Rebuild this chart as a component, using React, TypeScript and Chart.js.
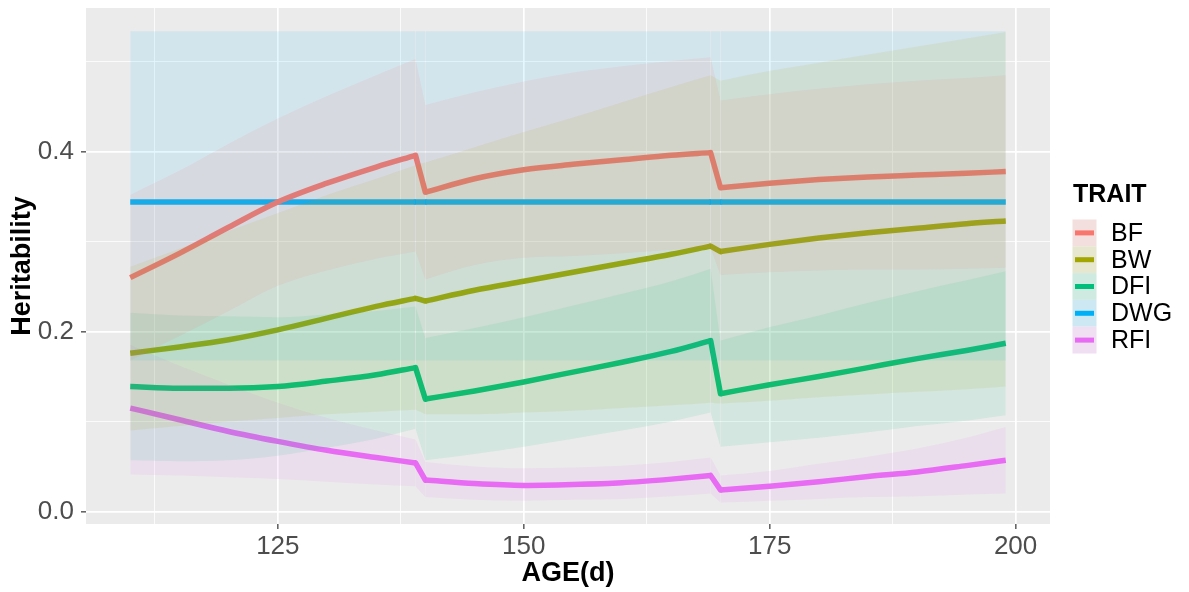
import { useEffect, useRef } from 'react';
import { Chart, registerables } from 'chart.js';

Chart.register(...registerables);

// ---------- data ----------
const AGES = [110, 115, 120, 125, 130, 135, 139, 140, 145, 150, 155, 160, 165, 169, 170, 175, 180, 185, 190, 195, 199];
// index ranges of the smooth stretches and of the two steps between them
const PIECES = [[0, 6], [6, 7], [7, 13], [13, 14], [14, 20]];

const TRAITS = ['BF', 'BW', 'DFI', 'DWG', 'RFI'];
const TRAIT_COLORS = ['#F8766D', '#A3A500', '#00BF7D', '#00B0F6', '#E76BF3'];

const BF_MEAN = [0.260, 0.287, 0.316, 0.344, 0.365, 0.383, 0.396, 0.355, 0.370, 0.380, 0.386, 0.391, 0.396, 0.399, 0.360, 0.365, 0.369, 0.372, 0.374, 0.376, 0.378];
const BF_LOW = [0.168, 0.195, 0.223, 0.251, 0.268, 0.281, 0.289, 0.258, 0.274, 0.282, 0.284, 0.287, 0.291, 0.293, 0.263, 0.266, 0.268, 0.269, 0.269, 0.270, 0.271];
const BF_HIGH = [0.352, 0.379, 0.409, 0.437, 0.462, 0.485, 0.503, 0.452, 0.466, 0.478, 0.488, 0.495, 0.501, 0.505, 0.457, 0.464, 0.470, 0.475, 0.479, 0.482, 0.485];

const BW_MEAN = [0.176, 0.183, 0.191, 0.202, 0.215, 0.228, 0.237, 0.234, 0.246, 0.256, 0.266, 0.276, 0.286, 0.295, 0.289, 0.297, 0.304, 0.310, 0.315, 0.320, 0.323];
const BW_LOW = [0.090, 0.095, 0.100, 0.104, 0.108, 0.111, 0.113, 0.108, 0.108, 0.110, 0.112, 0.115, 0.118, 0.121, 0.120, 0.123, 0.127, 0.130, 0.133, 0.136, 0.139];
const BW_HIGH = [0.272, 0.292, 0.312, 0.332, 0.352, 0.370, 0.385, 0.388, 0.405, 0.422, 0.438, 0.455, 0.472, 0.485, 0.479, 0.490, 0.499, 0.508, 0.517, 0.526, 0.533];

const DFI_MEAN = [0.139, 0.137, 0.137, 0.139, 0.145, 0.152, 0.160, 0.125, 0.134, 0.144, 0.155, 0.166, 0.178, 0.190, 0.131, 0.141, 0.150, 0.160, 0.170, 0.179, 0.187];
const DFI_LOW = [0.057, 0.056, 0.057, 0.062, 0.071, 0.081, 0.092, 0.057, 0.064, 0.072, 0.081, 0.090, 0.100, 0.110, 0.072, 0.077, 0.082, 0.088, 0.095, 0.101, 0.107];
const DFI_HIGH = [0.221, 0.218, 0.217, 0.216, 0.219, 0.223, 0.228, 0.193, 0.204, 0.216, 0.229, 0.242, 0.256, 0.270, 0.190, 0.205, 0.218, 0.232, 0.245, 0.257, 0.267];

const DWG_MEAN = [0.344, 0.344, 0.344, 0.344, 0.344, 0.344, 0.344, 0.344, 0.344, 0.344, 0.344, 0.344, 0.344, 0.344, 0.344, 0.344, 0.344, 0.344, 0.344, 0.344, 0.344];
const DWG_LOW = [0.168, 0.168, 0.168, 0.168, 0.168, 0.168, 0.168, 0.168, 0.168, 0.168, 0.168, 0.168, 0.168, 0.168, 0.168, 0.168, 0.168, 0.168, 0.168, 0.168, 0.168];
const DWG_HIGH = [0.534, 0.534, 0.534, 0.534, 0.534, 0.534, 0.534, 0.534, 0.534, 0.534, 0.534, 0.534, 0.534, 0.534, 0.534, 0.534, 0.534, 0.534, 0.534, 0.534, 0.534];

const RFI_MEAN = [0.115, 0.102, 0.089, 0.078, 0.068, 0.060, 0.054, 0.035, 0.031, 0.029, 0.030, 0.032, 0.036, 0.040, 0.024, 0.028, 0.033, 0.039, 0.044, 0.051, 0.057];
const RFI_LOW = [0.041, 0.040, 0.038, 0.036, 0.033, 0.030, 0.028, 0.016, 0.013, 0.012, 0.013, 0.014, 0.017, 0.020, 0.010, 0.012, 0.014, 0.016, 0.017, 0.019, 0.020];
const RFI_HIGH = [0.185, 0.162, 0.141, 0.121, 0.104, 0.090, 0.080, 0.055, 0.050, 0.048, 0.049, 0.051, 0.055, 0.060, 0.040, 0.045, 0.053, 0.061, 0.070, 0.082, 0.094];

const MEANS = [BF_MEAN, BW_MEAN, DFI_MEAN, DWG_MEAN, RFI_MEAN];
const LOWS = [BF_LOW, BW_LOW, DFI_LOW, DWG_LOW, RFI_LOW];
const HIGHS = [BF_HIGH, BW_HIGH, DFI_HIGH, DWG_HIGH, RFI_HIGH];

const X_MAJOR_TICKS = [125, 150, 175, 200];
const X_TICK_LABELS = ['125', '150', '175', '200'];
const X_MINOR_TICKS = [112.5, 137.5, 162.5, 187.5];
const Y_MAJOR_TICKS = [0, 0.2, 0.4];
const Y_TICK_LABELS = ['0.0', '0.2', '0.4'];
const Y_MINOR_TICKS = [0.1, 0.3, 0.5];

const X_TITLE = 'AGE(d)';
const Y_TITLE = 'Heritability';
const LEGEND_TITLE = 'TRAIT';

// ---------- style ----------
const FONT = '"Liberation Sans", Arial, Helvetica, sans-serif';
const RIBBON_ALPHA = 0.1;
const X_MIN = 105.5;
const X_MAX = 203.5;
const Y_MIN = -0.0139;
const Y_MAX = 0.5598;

function rgba(hex: string, a: number) {
  const r = parseInt(hex.slice(1, 3), 16);
  const g = parseInt(hex.slice(3, 5), 16);
  const b = parseInt(hex.slice(5, 7), 16);
  return `rgba(${r},${g},${b},${a})`;
}

function near(list: number[], v: number) {
  return list.findIndex((m) => Math.abs(m - v) < 1e-6);
}

const panelPlugin = {
  id: 'panelBg',
  beforeDraw(chart: any) {
    const { ctx, chartArea: a } = chart;
    ctx.save();
    ctx.fillStyle = '#EBEBEB';
    ctx.fillRect(a.left, a.top, a.right - a.left, a.bottom - a.top);
    ctx.restore();
  },
};

const legendPlugin = {
  id: 'ggLegend',
  afterDraw(chart: any) {
    const ctx = chart.ctx;
    ctx.save();
    ctx.fillStyle = '#000000';
    ctx.font = `bold 25px ${FONT}`;
    ctx.textAlign = 'left';
    ctx.textBaseline = 'alphabetic';
    ctx.fillText(LEGEND_TITLE, 1073, 202);
    const h = 26.8;
    TRAITS.forEach((t, i) => {
      const top = 219.5 + i * h;
      ctx.fillStyle = '#F2F2F2';
      ctx.fillRect(1072.5, top, 24, h);
      ctx.fillStyle = rgba(TRAIT_COLORS[i], RIBBON_ALPHA + 0.05);
      ctx.fillRect(1072.5, top, 24, h);
      ctx.strokeStyle = TRAIT_COLORS[i];
      ctx.lineWidth = 5;
      ctx.beginPath();
      ctx.moveTo(1075, top + h / 2);
      ctx.lineTo(1094, top + h / 2);
      ctx.stroke();
      ctx.fillStyle = '#000000';
      ctx.font = `25px ${FONT}`;
      ctx.textBaseline = 'middle';
      ctx.fillText(t, 1111, top + h / 2 + 1);
    });
    ctx.restore();
  },
};

function pts(ys: number[], from: number, to: number) {
  const out: { x: number; y: number }[] = [];
  for (let i = from; i <= to; i++) out.push({ x: AGES[i], y: ys[i] });
  return out;
}

export default function App() {
  const ref = useRef<HTMLCanvasElement>(null);

  useEffect(() => {
    if (!ref.current) return;
    Chart.defaults.font.family = FONT;

    const datasets: any[] = [];
    TRAITS.forEach((t, i) => {
      PIECES.forEach(([a, b], p) => {
        datasets.push({
          label: `${t} lower ${p}`,
          data: pts(LOWS[i], a, b),
          borderWidth: 0,
          pointRadius: 0,
          fill: false,
          cubicInterpolationMode: 'monotone',
          order: 0,
        });
        datasets.push({
          label: `${t} upper ${p}`,
          data: pts(HIGHS[i], a, b),
          borderWidth: 0,
          pointRadius: 0,
          fill: '-1',
          backgroundColor: rgba(TRAIT_COLORS[i], RIBBON_ALPHA),
          cubicInterpolationMode: 'monotone',
          order: 0,
        });
      });
    });
    TRAITS.forEach((t, i) => {
      PIECES.forEach(([a, b], p) => {
        const isStep = b - a === 1;
        datasets.push({
          label: `${t} ${p}`,
          data: pts(MEANS[i], a, b),
          borderColor: TRAIT_COLORS[i],
          borderWidth: 5.5,
          pointRadius: 0,
          fill: false,
          cubicInterpolationMode: 'monotone',
          borderCapStyle: isStep ? 'round' : 'butt',
          borderJoinStyle: 'round',
          order: isStep ? 4 : 5,
        });
      });
    });

    const chart = new Chart(ref.current, {
      type: 'line',
      data: { datasets },
      plugins: [panelPlugin, legendPlugin],
      options: {
        animation: false,
        responsive: false,
        devicePixelRatio: 1,
        layout: { padding: { left: 0, right: 139, top: 8, bottom: 0 } },
        plugins: {
          legend: { display: false },
          tooltip: { enabled: false },
        },
        scales: {
          x: {
            type: 'linear',
            min: X_MIN,
            max: X_MAX,
            afterBuildTicks: (s: any) => {
              s.ticks = [...X_MINOR_TICKS, ...X_MAJOR_TICKS].sort((a, b) => a - b).map((v) => ({ value: v }));
            },
            afterFit: (s: any) => {
              s.height = 68;
              s.paddingLeft = 0;
              s.paddingRight = 0;
              s.paddingTop = 0;
              s.paddingBottom = 0;
            },
            border: { display: false },
            grid: {
              color: '#FFFFFF',
              lineWidth: (c: any) => (near(X_MAJOR_TICKS, c.tick?.value) >= 0 ? 1.7 : 0.8),
              drawTicks: true,
              tickLength: 5,
              tickWidth: 1.2,
              tickColor: (c: any) => (near(X_MAJOR_TICKS, c.tick?.value) >= 0 ? '#333333' : 'rgba(0,0,0,0)'),
            },
            ticks: {
              autoSkip: false,
              maxRotation: 0,
              color: '#4D4D4D',
              font: { size: 26 },
              padding: 2,
              callback: (v: any) => {
                const k = near(X_MAJOR_TICKS, Number(v));
                return k >= 0 ? X_TICK_LABELS[k] : '';
              },
            },
            title: {
              display: true,
              text: X_TITLE,
              color: '#000000',
              font: { size: 27, weight: 'bold', lineHeight: 1.2 },
              padding: { top: 0, bottom: 2 },
            },
          },
          y: {
            type: 'linear',
            min: Y_MIN,
            max: Y_MAX,
            afterBuildTicks: (s: any) => {
              s.ticks = [...Y_MAJOR_TICKS, ...Y_MINOR_TICKS].sort((a, b) => a - b).map((v) => ({ value: v }));
            },
            afterFit: (s: any) => {
              s.width = 86;
              s.paddingLeft = 0;
              s.paddingRight = 0;
              s.paddingTop = 0;
              s.paddingBottom = 0;
            },
            border: { display: false },
            grid: {
              color: '#FFFFFF',
              lineWidth: (c: any) => (near(Y_MAJOR_TICKS, c.tick?.value) >= 0 ? 1.7 : 0.8),
              drawTicks: true,
              tickLength: 5,
              tickWidth: 1.2,
              tickColor: (c: any) => (near(Y_MAJOR_TICKS, c.tick?.value) >= 0 ? '#333333' : 'rgba(0,0,0,0)'),
            },
            ticks: {
              autoSkip: false,
              color: '#4D4D4D',
              font: { size: 26 },
              padding: 7,
              callback: (v: any) => {
                const k = near(Y_MAJOR_TICKS, Number(v));
                return k >= 0 ? Y_TICK_LABELS[k] : '';
              },
            },
            title: {
              display: true,
              text: Y_TITLE,
              color: '#000000',
              font: { size: 27, weight: 'bold', lineHeight: 1.2 },
              padding: { top: 6, bottom: 0 },
            },
          },
        },
      },
    } as any);

    return () => chart.destroy();
  }, []);

  return (
    <div style={{ position: 'fixed', left: 0, top: 0, width: 1189, height: 592, background: '#FFFFFF' }}>
      <canvas ref={ref} width={1189} height={592} style={{ width: 1189, height: 592, display: 'block' }} />
    </div>
  );
}
